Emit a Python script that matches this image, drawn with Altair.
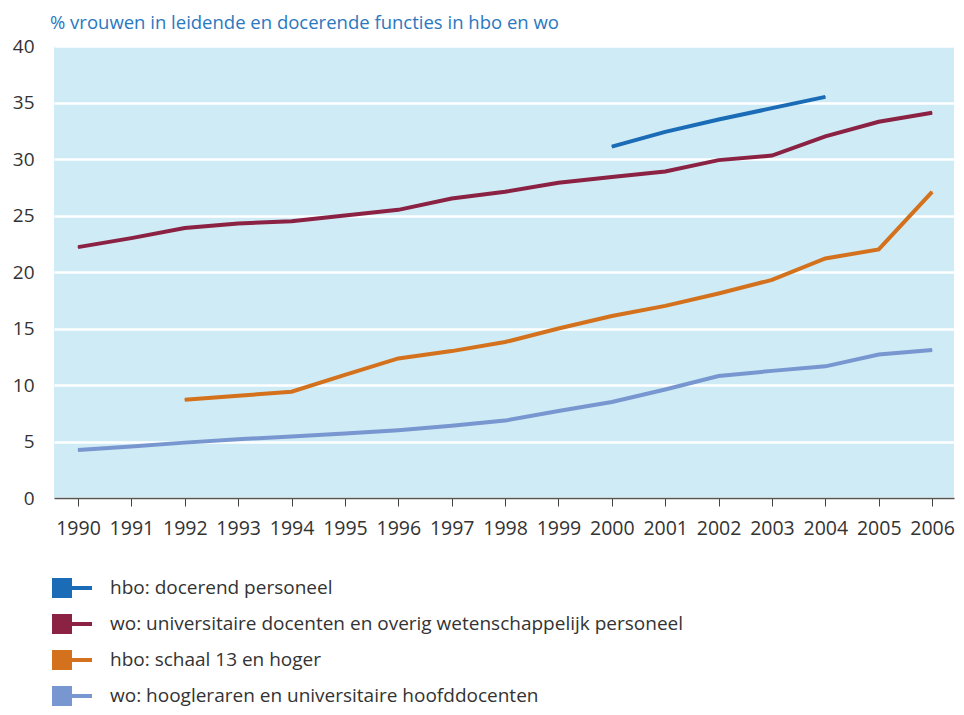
import altair as alt
import pandas as pd

FONT = "Open Sans"

years = list(range(1990, 2007))
series = [
    "hbo: docerend personeel",
    "wo: universitaire docenten en overig wetenschappelijk personeel",
    "hbo: schaal 13 en hoger",
    "wo: hoogleraren en universitaire hoofddocenten",
]
colors = ["#1a6cb6", "#8b2244", "#d4711c", "#7896cf"]

hbo_docerend = [None] * 10 + [31.1, 32.4, 33.5, 34.5, 35.5, None, None]
wo_docenten = [22.2, 23.0, 23.9, 24.3, 24.5, 25.0, 25.5, 26.5, 27.1, 27.9,
               28.4, 28.9, 29.9, 30.3, 32.0, 33.3, 34.1]
hbo_schaal13 = [None, None, 8.7, 9.05, 9.4, 10.9, 12.35, 13.0, 13.8, 15.0,
                16.1, 17.0, 18.1, 19.3, 21.2, 22.0, 27.1]
wo_hoogleraren = [4.25, 4.55, 4.9, 5.2, 5.45, 5.7, 6.0, 6.4, 6.85, 7.7,
                  8.5, 9.6, 10.8, 11.25, 11.65, 12.7, 13.1]
values = [hbo_docerend, wo_docenten, hbo_schaal13, wo_hoogleraren]

y_ticks = [0, 5, 10, 15, 20, 25, 30, 35, 40]

rows = []
for name, vals in zip(series, values):
    for yr, v in zip(years, vals):
        if v is not None:
            rows.append({"jaar": yr, "pct": v, "reeks": name, "legenda": name})
df = pd.DataFrame(rows)

x = alt.X(
    "jaar:Q",
    scale=alt.Scale(domain=[1989.55, 2006.41], nice=False, zero=False),
    axis=alt.Axis(
        values=years, format="d", title=None, grid=False,
        labelFontSize=19.5, labelFont=FONT, labelColor="#333333",
        labelPadding=13, tickSize=8, tickColor="#444444", tickWidth=1,
        domainColor="#555555", domainWidth=1.5, labelFlush=False,
    ),
)
y = alt.Y(
    "pct:Q",
    scale=alt.Scale(domain=[0, 40], nice=False),
    axis=alt.Axis(
        values=y_ticks, title=None, grid=True, gridColor="white", gridWidth=2.5,
        domain=False, ticks=False, labelFontSize=19, labelFont=FONT,
        labelColor="#333333", labelPadding=20,
    ),
)

pts = alt.Chart(df).mark_point(filled=True, size=1, opacity=1).encode(
    x=x, y=y,
    fill=alt.Fill(
        "legenda:N",
        scale=alt.Scale(domain=series, range=colors),
        legend=alt.Legend(
            orient="none", legendX=-2, legendY=522, direction="vertical",
            title=None,
            symbolType="M-1,-0.5H0V0.5H-1Z M0,-0.1H1V0.1H0Z",
            symbolSize=1600, symbolStrokeWidth=0, symbolOpacity=1,
            labelFontSize=19, labelFont=FONT, labelColor="#333333",
            labelOffset=18, rowPadding=6, labelLimit=900,
        ),
    ),
)

lines = alt.Chart(df).mark_line(strokeWidth=4).encode(
    x=x, y=y,
    color=alt.Color("reeks:N", scale=alt.Scale(domain=series, range=colors), legend=None),
    detail="reeks:N",
)

chart = alt.layer(pts, lines).properties(
    width=900,
    height=452,
    title=alt.Title(
        "% vrouwen in leidende en docerende functies in hbo en wo",
        anchor="start", frame="group", fontSize=18.5, font=FONT,
        fontWeight="normal", color="#2a78bf", offset=5, dx=-4,
    ),
    autosize=alt.AutoSizeParams(type="none"),
    padding={"left": 46, "top": 38, "right": 2, "bottom": 209},
).configure_view(fill="#cfebf5", stroke=None)

chart.save("out.html", embed_options={"renderer": "svg", "actions": False})
